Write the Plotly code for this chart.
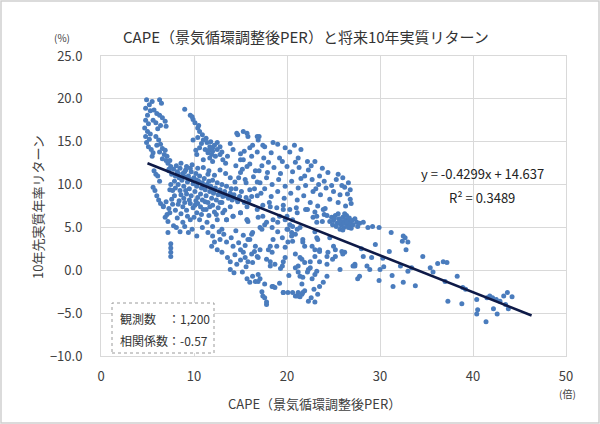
import plotly.graph_objects as go

spike_upper_left = [
    (4.9,19.9),(5.5,19.7),(6.3,19.9),(6.5,19.5),(5.2,19.3),(4.8,18.9),(5.3,18.6),(5.7,18.7),(6.0,18.3),
    (6.3,18.1),(6.6,17.8),(6.9,17.4),(5.0,18.1),(4.8,17.5),(5.1,17.1),(5.9,17.2),(6.4,16.9),(7.0,16.8),
    (4.7,16.6),(5.0,16.2),(4.8,15.6),(5.2,15.3),(4.9,14.9),(5.1,14.4),(5.4,14.1),(5.6,13.7),(5.9,15.6),
    (6.2,15.2),(6.4,14.7),(6.6,14.2),(6.3,13.8),(6.8,13.5),(6.6,13.0),(7.0,12.8),(7.2,12.5),(7.5,12.1),
    (7.1,13.3),(7.4,12.8),(5.5,13.3),(6.0,14.6),(6.9,14.0),(7.3,11.8),(5.3,15.9),(5.6,17.5),(6.1,16.5),
    (5.6,9.7),(5.8,9.3),(6.0,8.7),(6.2,8.2),(6.4,7.8),(6.7,7.5),(6.1,11.0),(6.3,10.4),(5.7,11.6),(5.9,11.2),
]
band_main = [
    (7.3,11.6),(7.6,11.2),(7.8,11.8),(8.0,11.0),(8.2,11.5),(8.4,10.8),(8.5,11.9),(8.7,10.5),(8.8,11.3),
    (9.0,10.9),(9.1,11.7),(9.3,10.3),(9.4,11.0),(9.6,10.6),(9.7,11.5),(9.9,10.1),(10.0,10.8),(10.2,11.3),
    (10.3,9.8),(10.5,10.4),(10.6,11.0),(10.8,9.6),(10.9,10.2),(11.1,10.7),(11.2,9.4),(11.4,10.0),(11.5,11.2),
    (11.7,9.2),(11.8,9.8),(12.0,10.5),(12.1,9.0),(12.3,9.6),(12.5,10.2),(12.6,8.8),(12.8,9.4),(13.0,10.0),
    (13.1,8.6),(13.3,9.2),(13.5,9.8),(13.7,8.4),(13.9,9.0),(14.1,8.2),(14.3,8.8),(14.5,9.5),(14.7,8.0),
    (14.9,8.6),(15.1,9.2),(15.4,7.9),(15.6,8.5),(15.9,8.1),(16.2,8.6),(7.9,10.4),(8.3,10.0),(8.9,9.8),
    (9.5,9.5),(10.1,9.2),(10.7,8.9),(11.3,8.7),(11.9,8.4),(12.4,8.2),(13.0,7.9),(8.1,12.2),(8.6,12.5),
    (9.2,12.1),(9.8,12.3),(10.4,11.9),(11.0,12.0),(11.6,11.6),(12.2,11.1),(12.8,11.7),(13.4,11.3),(13.9,10.8),
    (14.4,10.3),(15.0,11.4),(15.5,10.6),(15.7,12.1),(15.3,12.9),(15.0,13.6),(16.0,14.3),(14.2,14.1),(13.9,14.8),
    (14.7,15.8),(15.7,16.0),(7.5,10.0),(7.7,9.3),(8.5,9.3),(9.2,8.9),(16.5,9.5),(16.8,10.3),(17.2,9.0),
]
below_line_left = [
    (6.7,7.4),(7.1,6.5),(7.4,6.7),(7.7,7.7),(8.2,6.1),(8.8,7.4),(8.8,5.6),(9.6,5.9),(9.9,7.3),(10.3,6.7),
    (10.6,5.9),(11.0,7.1),(11.4,5.6),(11.7,7.4),(12.0,5.1),(12.5,5.9),(12.8,7.9),(13.1,6.7),(13.5,5.9),
    (13.9,7.4),(14.2,6.3),(15.0,6.7),(15.7,5.9),(15.7,7.4),(7.0,8.0),(7.6,8.3),(8.0,7.0),(8.4,8.1),(8.6,6.6),
    (9.0,7.9),(9.3,6.3),(9.5,8.2),(10.0,6.2),(10.4,7.8),(10.8,6.5),(11.2,8.0),(11.6,6.4),(12.2,6.8),(12.6,7.3),
    (13.3,7.0),(7.2,5.7),(7.8,5.2),(8.5,4.5),(9.4,4.4),(10.3,4.0),(11.5,4.4),(12.0,4.0),(7.2,4.4),(8.1,5.0),
    (9.0,5.1),(9.8,4.8),(10.9,5.0),(9.2,7.0),(10.1,7.6),(8.3,7.7),(7.3,7.2),(6.9,6.2),
    (7.5,3.1),(7.5,2.6),(7.5,2.1),(7.5,1.6),
    (12.8,3.6),(13.5,3.3),(14.2,2.8),(15.0,2.4),(11.9,2.8),(12.5,2.4),(13.0,2.1),(13.9,1.0),(13.9,0.1),
    (14.6,0.7),(15.3,2.1),(15.7,-1.0),(16.0,-1.4),(16.3,-0.7),(16.9,-1.3),(12.2,3.3),(13.2,4.2),(14.0,3.8),
    (14.8,3.2),(15.5,2.9),(13.6,1.5),(14.4,1.8),(15.0,1.2),(15.6,0.4),(14.3,-0.3),(15.2,-0.2),(13.0,4.8),
    (14.5,4.6),(15.3,4.1),(12.7,4.5),
]
second_arc = [
    (9.0,18.8),(9.6,18.1),(9.9,17.6),(10.1,17.2),(10.4,16.6),(10.6,16.2),(9.9,15.2),(10.4,15.5),(11.0,15.2),
    (11.4,14.9),(11.7,14.4),(12.0,14.3),(12.5,14.1),(11.2,14.1),(11.5,13.7),(11.9,13.5),(12.3,13.3),(12.8,13.5),
    (10.6,14.3),(10.3,13.5),(11.0,12.9),(12.5,14.9),(12.8,14.4),(13.0,13.8),(13.1,12.9),(12.0,12.7),(10.8,14.8),
    (11.3,15.4),(11.8,15.0),(12.2,14.6),(11.6,14.0),(12.0,13.9),(10.5,16.9),(9.8,17.9),(10.9,15.8),(11.7,13.1),
    (10.2,14.0),(13.4,12.5),(13.6,13.3),
]
middle_loop = [
    (15.8,15.6),(16.9,15.2),(17.6,14.4),(17.0,15.6),(18.5,14.9),(19.0,14.7),(19.8,14.3),(20.3,13.8),(21.2,13.1),
    (22.2,12.7),(23.0,12.7),(22.3,11.7),(24.4,11.4),(25.5,11.2),(26.0,10.8),(26.6,10.2),(26.8,9.4),(26.8,8.3),
    (25.3,10.6),(24.0,10.4),(23.5,11.0),(20.8,14.6),(21.5,14.1),(19.2,13.1),(18.3,13.7),(16.3,14.6),(16.8,13.8),
    (17.5,13.1),(14.6,16.0),(15.3,16.2),(16.8,15.6),(17.4,14.6),
    (14.5,12.2),(15.2,11.8),(16.0,12.4),(16.6,11.6),(17.3,12.2),(17.9,11.4),(18.6,12.0),(19.3,11.3),(20.0,12.1),
    (20.6,11.5),(21.3,12.0),(21.9,11.0),(22.7,10.6),(23.4,10.0),(24.2,9.6),(25.0,9.2),(25.7,8.8),(26.2,9.7),
    (14.8,10.8),(15.6,10.2),(16.4,10.9),(17.1,10.2),(17.8,10.8),(18.4,10.0),(19.1,10.6),(19.8,9.8),(20.5,10.4),
    (21.2,9.6),(22.0,9.9),(22.8,9.2),(23.6,8.8),(24.6,8.3),(25.5,7.9),(26.3,7.5),(16.0,9.4),(16.8,8.7),
    (17.6,9.5),(18.3,8.6),(19.0,9.2),(19.7,8.4),(20.4,9.0),(21.1,8.2),(21.8,8.7),(22.5,7.9),(23.3,7.5),
    (24.1,7.2),(17.4,7.6),(18.1,7.9),(18.9,7.3),(19.6,7.6),(20.3,7.1),(21.0,7.3),(22.0,7.1),(23.0,6.8),
    (24.0,6.5),(17.0,11.6),(18.0,12.6),(19.5,12.7),(20.9,12.6),(22.6,12.2),(23.8,11.9),(16.2,13.3),(15.4,13.9),
    (15.0,12.9),(21.5,10.7),(23.1,9.5),(24.8,9.9),(25.9,9.9),(26.5,8.9),(26.9,7.8),
]
cluster_25x = [
    (24.8,6.2),(25.0,5.8),(25.2,6.4),(25.4,5.5),(25.6,6.0),(25.8,5.3),(25.9,5.7),(26.0,6.2),(26.1,5.0),
    (26.2,5.5),(26.3,5.9),(26.4,6.4),(26.5,5.2),(26.6,5.7),(26.7,6.1),(26.8,5.4),(26.9,4.9),(27.0,5.8),
    (27.1,5.3),(27.3,6.0),(27.5,5.6),(25.3,5.1),(25.7,4.8),(24.6,5.7),(24.3,6.4),(26.2,6.6),(25.5,6.6),
    (27.6,5.1),(27.8,5.5),(26.0,4.7),(24.9,5.3),(25.1,6.0),(26.6,5.0),(26.4,5.6),(25.6,5.6),
]
right_tail = [
    (28.2,5.6),(28.7,5.0),(29.2,5.1),(29.9,5.0),(31.2,4.4),(32.5,4.0),(32.4,3.4),(32.7,3.8),(33.0,3.3),
    (32.8,2.4),(34.6,1.6),(35.4,0.3),(36.2,0.8),(36.8,1.0),(37.2,0.9),(38.3,-0.7),(37.0,-1.3),(38.9,-2.0),
    (39.2,-2.2),(37.3,-3.6),(38.8,-3.9),(40.4,-3.4),(41.5,-3.2),(40.5,-4.6),(40.4,-5.1),(41.4,-6.0),
    (41.8,-3.0),(42.1,-3.2),(42.9,-3.6),(43.3,-3.0),(43.7,-2.6),(44.2,-3.1),(42.2,-4.5),(42.6,-5.1),
    (43.8,-4.5),(43.5,-4.0),(42.5,-3.4),(27.8,-0.7),(28.6,0.5),(28.9,0.1),(30.0,0.1),(30.4,0.4),(29.9,-1.2),
    (31.3,-0.6),(31.4,-1.9),(32.5,-1.4),(33.8,-1.8),(32.2,0.5),(33.0,-0.1),(33.4,0.3),(35.7,-0.2),(28.2,1.6),
    (29.1,1.5),(28.0,2.5),(29.5,3.0),(31.0,2.2),(30.3,1.4),
]
below_line_middle = [
    (15.8,3.6),(16.2,4.2),(16.6,2.8),(16.2,1.9),(16.9,1.5),(15.8,1.0),(16.9,-0.5),(16.6,-1.3),(17.1,-1.0),
    (17.6,-1.6),(17.3,-2.5),(17.6,-3.2),(17.8,-3.7),(18.4,-1.9),(18.7,-2.0),(18.2,1.0),(18.7,0.7),(19.5,0.5),
    (19.6,1.0),(19.8,1.5),(20.9,0.3),(21.2,-0.2),(21.4,-0.7),(21.7,-0.8),(21.6,-1.6),(21.9,-2.4),(21.2,-2.6),
    (21.6,-2.8),(20.9,-3.0),(20.1,-2.6),(19.6,-2.6),(22.3,-3.6),(23.0,-3.7),(22.6,-3.2),(23.3,-2.8),(23.5,-1.9),
    (23.9,-1.4),(24.3,-0.7),(22.7,-1.0),(23.0,-0.5),(22.3,0.1),(21.9,0.9),(22.5,1.0),(21.6,1.3),(21.2,0.5),
    (21.4,1.5),(20.9,1.9),(19.8,2.7),(20.1,3.3),(20.6,3.4),(20.9,4.2),(20.5,4.4),(21.1,4.8),(21.4,5.0),
    (20.1,4.8),(20.3,5.3),(20.6,5.9),(21.7,3.6),(21.9,2.8),(23.0,2.4),(23.3,3.6),(23.5,2.4),(23.0,4.5),
    (23.2,3.8),(24.4,2.1),(25.2,1.6),(24.9,1.3),(26.2,2.1),(27.3,0.5),(27.6,-1.0),(15.8,5.7),(16.9,6.2),
    (17.6,5.3),(18.4,5.0),(17.3,4.8),(15.5,1.5),(16.3,0.9),(19.0,4.5),(19.5,3.8),(18.2,2.8),(18.0,2.4),
    (19.8,5.9),(20.0,6.3),(19.0,5.6),(22.8,6.2),(23.2,5.6),(23.8,5.7),(25.9,2.2),(27.3,0.7),(25.2,2.4),
    (24.3,0.7),(25.0,2.8),(23.5,2.2),(24.6,3.8),(26.0,1.9),(25.7,0.1),(27.1,0.5),(17.8,1.3),(18.2,0.5),
    (16.8,1.6),(17.1,2.4),(16.0,3.6),(16.3,4.4),(17.1,5.0),(17.8,5.6),(18.5,5.9),(19.2,6.3),(17.4,6.3),
    (15.0,6.7),(14.2,6.3),(13.5,5.9),(15.7,5.9),(18.5,3.6),(18.9,2.8),(18.4,2.1),(20.6,-2.6),(21.1,-3.0),
    (21.4,-3.1),(21.7,-2.6),(22.2,-0.2),(22.5,0.3),(23.2,-0.1),(23.5,1.0),(24.3,1.6),(23.0,1.6),(22.7,2.8),
    (21.7,3.3),(20.5,4.0),(20.0,4.8),(20.6,5.1),(18.5,-1.9),(19.6,-2.6),(17.4,-3.0),(17.8,-4.0),(16.8,7.1),
    (18.2,7.4),(19.6,7.1),(21.1,6.7),(22.2,7.1),(23.2,6.3),(23.9,7.1),(16.5,2.2),(19.3,0.2),(20.2,-0.6),
    (22.9,-2.2),(19.2,-1.5),
]
extra_dense_left = [
    (8.0,9.6),(8.6,8.8),(9.1,9.3),(9.7,8.7),(10.4,8.5),(10.9,8.2),(11.5,7.9),(12.0,7.6),(8.9,8.4),
    (9.6,7.8),(10.2,8.1),(10.7,7.4),(11.3,7.1),(12.4,6.5),(7.4,9.4),(7.9,8.7),(8.3,11.3),(9.0,11.5),
    (9.6,11.9),(10.3,10.5),(11.0,9.9),(11.6,10.4),(12.2,9.3),(12.9,8.9),(13.5,8.7),(14.0,9.5),(14.6,8.3),
]

# trendline (from the chart's own equation)
trend_slope = -0.4299
trend_intercept = 14.637
trend_x = [5.0, 46.3]

x_ticks = [0, 10, 20, 30, 40, 50]
y_ticks = [-10, -5, 0, 5, 10, 15, 20, 25]

all_points = (spike_upper_left + band_main + below_line_left + second_arc +
              middle_loop + cluster_25x + right_tail + below_line_middle + extra_dense_left)
cape = [p[0] for p in all_points]
ret = [p[1] for p in all_points]
trend_y = [trend_slope * x + trend_intercept for x in trend_x]

FONT = "Noto Sans CJK JP"
TXT = "#404040"

fig = go.Figure()
fig.add_trace(go.Scatter(x=cape, y=ret, mode="markers",
                         marker=dict(size=5, color="#4a7cbd", line=dict(width=0)),
                         showlegend=False, hoverinfo="skip"))
fig.add_trace(go.Scatter(x=trend_x, y=trend_y, mode="lines",
                         line=dict(color="#0e1a47", width=2.6),
                         showlegend=False, hoverinfo="skip"))

L, R, T, B = 101, 34, 56, 68
PW, PH = 600 - L - R, 424 - T - B

def px(xp):
    return (xp - L) / PW

def py(yp):
    return (424 - B - yp) / PH

fig.update_layout(
    width=600, height=424,
    margin=dict(l=L, r=R, t=T, b=B),
    paper_bgcolor="white", plot_bgcolor="white",
    font=dict(family=FONT, color=TXT, size=13),
    xaxis=dict(range=[0, 50], tickvals=x_ticks, showgrid=True, gridcolor="#d9d9d9", gridwidth=1,
               zeroline=False, showline=True, linecolor="#d9d9d9", mirror=True,
               ticks="", ticklabelstandoff=8, tickfont=dict(size=13, color=TXT)),
    yaxis=dict(range=[-10, 25], tickvals=y_ticks, tickformat=".1f", showgrid=True,
               gridcolor="#d9d9d9", gridwidth=1, zeroline=False, showline=True,
               linecolor="#d9d9d9", mirror=True, ticks="", ticklabelstandoff=15,
               tickfont=dict(size=13, color=TXT)),
)

def note(text, x, y, size, color=TXT, xanchor="center", angle=0):
    return dict(text=text, x=px(x), y=py(y), xref="paper", yref="paper", showarrow=False,
                xanchor=xanchor, yanchor="middle", textangle=angle,
                font=dict(size=size, color=color))

ann = [
    note("CAPE（景気循環調整後PER）と将来10年実質リターン", 306, 36, 15, "#333333"),
    note("(%)", 62, 38, 10),
    note("10年先実質年率リターン", 37, 207, 13, angle=-90),
    note("CAPE（景気循環調整後PER）", 314, 403, 13),
    note("(倍)", 567, 393, 10),
    note("y = -0.4299x + 14.637", 482, 173, 13, "#222222"),
    note("R² = 0.3489", 482, 197, 13, "#222222"),
    note("観測数　：1,200", 118, 318, 12, "#333333", xanchor="left"),
    note("相関係数：-0.57", 118, 340, 12, "#333333", xanchor="left"),
]
fig.update_layout(annotations=ann)

fig.add_shape(type="rect", xref="paper", yref="paper", x0=px(112), x1=px(214), y0=py(353), y1=py(303),
              line=dict(color="#9a9a9a", width=1, dash="dot"), fillcolor="white", layer="above")
fig.add_shape(type="rect", xref="paper", yref="paper", x0=px(1), x1=px(599), y0=py(423), y1=py(1),
              line=dict(color="#cfcfcf", width=1.5), fillcolor="rgba(0,0,0,0)", layer="above")

fig.write_html("out.html")
